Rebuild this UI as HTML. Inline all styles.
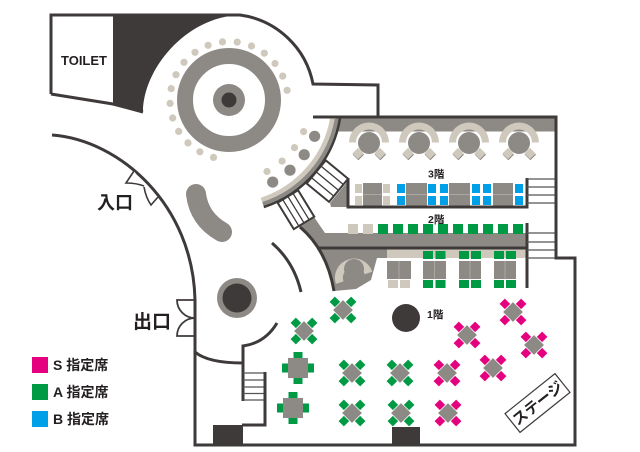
<!DOCTYPE html>
<html><head><meta charset="utf-8"><style>
html,body{margin:0;padding:0;background:#fff;}
svg{display:block;}
text{font-family:"Liberation Sans","Noto Sans CJK JP",sans-serif;font-weight:bold;fill:#231f20;}
</style></head><body>
<svg width="640" height="452" viewBox="0 0 640 452" xmlns="http://www.w3.org/2000/svg">
<defs>
<g id="plusG"><rect x="-4.5" y="-16" width="9" height="9" fill="#009a44"/><rect x="-4.5" y="7" width="9" height="9" fill="#009a44"/><rect x="-16" y="-4.5" width="9" height="9" fill="#009a44"/><rect x="7" y="-4.5" width="9" height="9" fill="#009a44"/><rect x="-10" y="-10" width="20" height="20" fill="#8d8a85"/></g>
<g id="diaG"><rect x="-3.75" y="-15.25" width="7.5" height="7.5" fill="#009a44"/><rect x="-3.75" y="7.75" width="7.5" height="7.5" fill="#009a44"/><rect x="-15.25" y="-3.75" width="7.5" height="7.5" fill="#009a44"/><rect x="7.75" y="-3.75" width="7.5" height="7.5" fill="#009a44"/><rect x="-7" y="-7" width="14" height="14" fill="#8d8a85"/></g>
<g id="diaP"><rect x="-3.75" y="-15.25" width="7.5" height="7.5" fill="#e5007f"/><rect x="-3.75" y="7.75" width="7.5" height="7.5" fill="#e5007f"/><rect x="-15.25" y="-3.75" width="7.5" height="7.5" fill="#e5007f"/><rect x="7.75" y="-3.75" width="7.5" height="7.5" fill="#e5007f"/><rect x="-7" y="-7" width="14" height="14" fill="#8d8a85"/></g>
<g id="booth"><path d="M-20,0 A20,20 0 0 1 20,0 L13,0 A13,13 0 0 0 -13,0 Z" fill="#cfc8bc"/><circle cx="0" cy="0.5" r="11" fill="#8d8a85"/><rect x="-15" y="8" width="8" height="8" fill="#8d8a85" transform="rotate(45 -11 12.5)"/><rect x="-15" y="7" width="8" height="8" fill="#cfc8bc" transform="rotate(45 -11 11)"/><rect x="7" y="8" width="8" height="8" fill="#8d8a85" transform="rotate(45 11 12.5)"/><rect x="7" y="7" width="8" height="8" fill="#cfc8bc" transform="rotate(45 11 11)"/></g>
</defs>

<!-- dark region near toilet -->
<path d="M113,15 L240,15 C185,17 143,70 143,112 L113,105 Z" fill="#3e3a39"/>
<path d="M51,94 L51,15 L240,15 A86,86 0 0 1 313,84 L378,85 L378,117" fill="none" stroke="#3e3a39" stroke-width="3"/>
<path d="M51,94 L113,104 L143,112" fill="none" stroke="#3e3a39" stroke-width="3"/>
<text x="61" y="65" font-size="13">TOILET</text>

<!-- rotunda dots -->
<g fill="#cfc8bc">
<circle cx="287.1" cy="90.3" r="3.6"/><circle cx="282.7" cy="76.1" r="3.6"/><circle cx="275" cy="63.5" r="3.6"/><circle cx="264.3" cy="53.2" r="3.6"/><circle cx="251.5" cy="46" r="3.6"/><circle cx="237.2" cy="42.1" r="3.6"/><circle cx="222.5" cy="41.9" r="3.6"/><circle cx="208.1" cy="45.3" r="3.6"/><circle cx="195" cy="52.3" r="3.6"/><circle cx="184" cy="62.3" r="3.6"/><circle cx="176" cy="74.7" r="3.6"/><circle cx="171.2" cy="88.6" r="3.6"/><circle cx="170.1" cy="103.4" r="3.6"/><circle cx="172.7" cy="118" r="3.6"/><circle cx="178.7" cy="131.4" r="3.6"/><circle cx="188" cy="142.9" r="3.6"/><circle cx="199.9" cy="151.8" r="3.6"/><circle cx="213.5" cy="157.4" r="3.6"/>
</g>
<circle cx="229" cy="100" r="44" fill="none" stroke="#8d8a85" stroke-width="16"/>
<circle cx="229" cy="100" r="16" fill="#8d8a85"/>
<circle cx="229" cy="100" r="7.5" fill="#3e3a39"/>

<!-- 3F top band -->
<rect x="336" y="118.5" width="219" height="13" fill="#8d8a85"/>

<!-- 2F gray region -->
<path d="M294,229 L314,217 L325,233 L527,233 L527,249 L387,249 L387,258 L377,258 L371,280 L356,289 L334,291 Q327,250 300,227 Z" fill="#8d8a85"/>
<!-- gray wedge near 3F -->
<path d="M330,203 L348,181 L348,207 L331,207 Z" fill="#8d8a85"/>

<!-- curved bar -->
<path d="M332.4,118.2 A105,105 0 0 1 261.4,199.9" fill="none" stroke="#cfc8bc" stroke-width="4.5"/>
<path d="M336.6,119 A109.25,109.25 0 0 1 262.8,203.9" fill="none" stroke="#8d8a85" stroke-width="4"/>
<path d="M340.1,117.6 A112.5,112.5 0 0 1 263.8,207" fill="none" stroke="#3e3a39" stroke-width="2.5"/>
<!-- dots along bar -->
<g fill="#cfc8bc"><circle cx="303.6" cy="131.6" r="3.6"/><circle cx="294.5" cy="147.6" r="3.6"/><circle cx="282.1" cy="161.1" r="3.6"/><circle cx="267" cy="171.5" r="3.6"/></g>
<g fill="#8d8a85"><circle cx="314.6" cy="136.3" r="5.6"/><circle cx="304.2" cy="154.7" r="5.6"/><circle cx="290" cy="170.2" r="5.6"/><circle cx="272.7" cy="182.1" r="5.6"/></g>

<!-- stairs on curve -->
<g transform="rotate(39.5 229 100)" stroke="#3e3a39">
<rect x="342" y="85" width="29" height="30" fill="#fff" stroke-width="2"/>
<path d="M342,92.5 H371 M342,100 H371 M342,107.5 H371" stroke-width="1.3"/>
</g>
<g transform="rotate(58.6 229 100)" stroke="#3e3a39">
<rect x="342" y="88" width="31" height="24" fill="#fff" stroke-width="2"/>
<path d="M342,94 H373 M342,100 H373 M342,106 H373" stroke-width="1.3"/>
</g>

<!-- 2F curved wall & corridor line -->
<path d="M300,227 Q327,250 334,291" fill="none" stroke="#3e3a39" stroke-width="3"/>
<path d="M317,248 L527,248" stroke="#3e3a39" stroke-width="3"/>
<path d="M272,243 Q294,262 301,292" fill="none" stroke="#3e3a39" stroke-width="3"/>

<!-- booths 3F -->
<use href="#booth" x="369" y="142.5"/>
<use href="#booth" x="419" y="142.5"/>
<use href="#booth" x="469" y="142.5"/>
<use href="#booth" x="519" y="142.5"/>

<text x="428" y="177.5" font-size="10.5">3階</text>
<text x="428" y="223" font-size="10.5">2階</text>
<text x="427" y="318" font-size="10.5">1階</text>

<!-- 3F table row -->
<g fill="#cfc8bc"><rect x="355" y="184" width="7" height="9"/><rect x="355" y="196" width="7" height="9"/><rect x="383" y="184" width="7" height="9"/><rect x="383" y="196" width="7" height="9"/></g>
<g fill="#00a0e9">
<rect x="397" y="184" width="8" height="9"/><rect x="397" y="196" width="8" height="9"/>
<rect x="428" y="184" width="8" height="9"/><rect x="428" y="196" width="8" height="9"/>
<rect x="440" y="184" width="8" height="9"/><rect x="440" y="196" width="8" height="9"/>
<rect x="472" y="184" width="8" height="9"/><rect x="472" y="196" width="8" height="9"/>
<rect x="483" y="184" width="8" height="9"/><rect x="483" y="196" width="8" height="9"/>
<rect x="515" y="184" width="8" height="9"/><rect x="515" y="196" width="8" height="9"/>
</g>
<g fill="#8d8a85"><rect x="363" y="183" width="19" height="23"/><rect x="406" y="183" width="21" height="23"/><rect x="449" y="183" width="21" height="23"/><rect x="493" y="183" width="20" height="23"/></g>
<path d="M363,194.5 H382 M406,194.5 H427 M449,194.5 H470 M493,194.5 H513" stroke="#aaa7a2" stroke-width="1"/>
<path d="M348,178 L348,207 L527,207 L527,178" fill="none" stroke="#3e3a39" stroke-width="3"/>

<!-- 2F upper seat row -->
<g fill="#cfc8bc"><rect x="348" y="224" width="10" height="10"/><rect x="363" y="224" width="10" height="10"/></g>
<g fill="#009a44">
<rect x="378" y="224" width="10" height="10"/><rect x="393" y="224" width="10" height="10"/><rect x="408" y="224" width="10" height="10"/><rect x="423" y="224" width="10" height="10"/><rect x="438" y="224" width="10" height="10"/><rect x="453" y="224" width="10" height="10"/><rect x="468" y="224" width="10" height="10"/><rect x="483" y="224" width="10" height="10"/><rect x="498" y="224" width="10" height="10"/><rect x="513" y="224" width="10" height="10"/>
</g>

<!-- 2F lower -->
<rect x="387" y="249.5" width="140" height="8.5" fill="#cfc8bc"/>
<path d="M339.7,282.6 A15,15 0 1 1 368.5,273" fill="none" stroke="#cfc8bc" stroke-width="8"/>
<circle cx="354" cy="269" r="10" fill="#8d8a85"/>
<g fill="#009a44">
<rect x="423" y="251" width="10" height="8"/><rect x="435.5" y="251" width="10" height="8"/>
<rect x="459" y="251" width="10" height="8"/><rect x="471" y="251" width="10" height="8"/>
<rect x="494" y="251" width="10" height="8"/><rect x="506" y="251" width="10" height="8"/>
<rect x="423" y="280" width="10" height="8"/><rect x="435.5" y="280" width="10" height="8"/>
<rect x="459" y="280" width="10" height="8"/><rect x="471" y="280" width="10" height="8"/>
<rect x="494" y="280" width="10" height="8"/><rect x="506" y="280" width="10" height="8"/>
</g>
<g fill="#cfc8bc"><rect x="388" y="280" width="10" height="8"/><rect x="400" y="280" width="10" height="8"/></g>
<g fill="#8d8a85"><rect x="387" y="261" width="24" height="18"/><rect x="423" y="261" width="23" height="18"/><rect x="459" y="261" width="22" height="18"/><rect x="494" y="261" width="22" height="18"/></g>
<path d="M399,261 V279 M434.5,261 V279 M470,261 V279 M505,261 V279" stroke="#aaa7a2" stroke-width="1"/>
<path d="M527,223 L527,288" stroke="#3e3a39" stroke-width="3"/>

<!-- right stairs -->
<path d="M527,179 H556 M527,187 H556 M527,195 H556 M527,203 H556 M527,233 H556 M527,242 H556 M527,250 H556 M527,258 H556" stroke="#555" stroke-width="1.3"/>

<!-- main outer wall -->
<path d="M313,117 L556,117 L556,258 L575,258 L575,445 L195,445 L195,300 C193,205 120,140 52,135" fill="none" stroke="#3e3a39" stroke-width="3"/>

<!-- entrance doors -->
<path d="M134,171 L126,183 Q136,183 144,186" fill="#fff" stroke="#3e3a39" stroke-width="1.6"/>
<path d="M144,187 Q146,198 151,205 L158,197" fill="#fff" stroke="#3e3a39" stroke-width="1.6"/>
<text x="97" y="209" font-size="18">入口</text>

<!-- exit doors -->
<path d="M195,300 L177,300 A18,18 0 0 0 195,318" fill="none" stroke="#3e3a39" stroke-width="1.8"/>
<path d="M195,336 L177,336 A18,18 0 0 1 195,318" fill="none" stroke="#3e3a39" stroke-width="1.8"/>
<text x="133" y="328" font-size="19">出口</text>

<!-- inner rotunda shapes -->
<path d="M196,194 Q199,219 222,232" fill="none" stroke="#8d8a85" stroke-width="20" stroke-linecap="round"/>
<circle cx="237" cy="298" r="20" fill="#8d8a85"/>
<circle cx="237" cy="298" r="14.5" fill="#3e3a39"/>

<!-- lower-left interior -->
<path d="M195,352 Q208,363 243,363" fill="none" stroke="#3e3a39" stroke-width="3"/>
<path d="M243,346 Q265,343 277,323" fill="none" stroke="#3e3a39" stroke-width="3"/>
<path d="M243,344.5 L243,401" stroke="#3e3a39" stroke-width="3"/>
<path d="M243,373 H265 M243,380 H265 M243,387 H265 M243,393.5 H265 M243,400 H265" stroke="#555" stroke-width="1.3"/>
<path d="M265,372 L265,425 L242,425" fill="none" stroke="#3e3a39" stroke-width="3"/>
<rect x="213" y="425" width="30" height="20" fill="#3e3a39"/>
<rect x="392" y="427" width="28" height="18" fill="#3e3a39"/>

<!-- 1F pillar -->
<circle cx="406" cy="318" r="14" fill="#3e3a39"/>

<!-- 1F tables -->
<use href="#diaG" transform="translate(343 310) rotate(45)"/>
<use href="#diaG" transform="translate(304 331) rotate(45)"/>
<use href="#diaG" transform="translate(352 373) rotate(45)"/>
<use href="#diaG" transform="translate(400 373) rotate(45)"/>
<use href="#diaG" transform="translate(352 413) rotate(45)"/>
<use href="#diaG" transform="translate(401 413) rotate(45)"/>
<use href="#plusG" transform="translate(298 368)"/>
<use href="#plusG" transform="translate(293 408)"/>
<use href="#diaP" transform="translate(513 312) rotate(45)"/>
<use href="#diaP" transform="translate(467 335) rotate(45)"/>
<use href="#diaP" transform="translate(534 345) rotate(45)"/>
<use href="#diaP" transform="translate(447 373) rotate(45)"/>
<use href="#diaP" transform="translate(493 368) rotate(45)"/>
<use href="#diaP" transform="translate(448 413) rotate(45)"/>

<!-- stage -->
<g transform="translate(537.5 403) rotate(-38.7)">
<rect x="-32" y="-12" width="64" height="24" fill="#fff" stroke="#3e3a39" stroke-width="1.2"/>
<text x="0" y="5.5" font-size="15" text-anchor="middle">ステージ</text>
</g>

<!-- legend -->
<rect x="32" y="357" width="16" height="16" fill="#e5007f"/>
<rect x="32" y="384" width="16" height="16" fill="#009a44"/>
<rect x="32" y="411" width="16" height="16" fill="#00a0e9"/>
<text x="53" y="370" font-size="14">S 指定席</text>
<text x="53" y="397" font-size="14">A 指定席</text>
<text x="53" y="424" font-size="14">B 指定席</text>
</svg>
</body></html>
